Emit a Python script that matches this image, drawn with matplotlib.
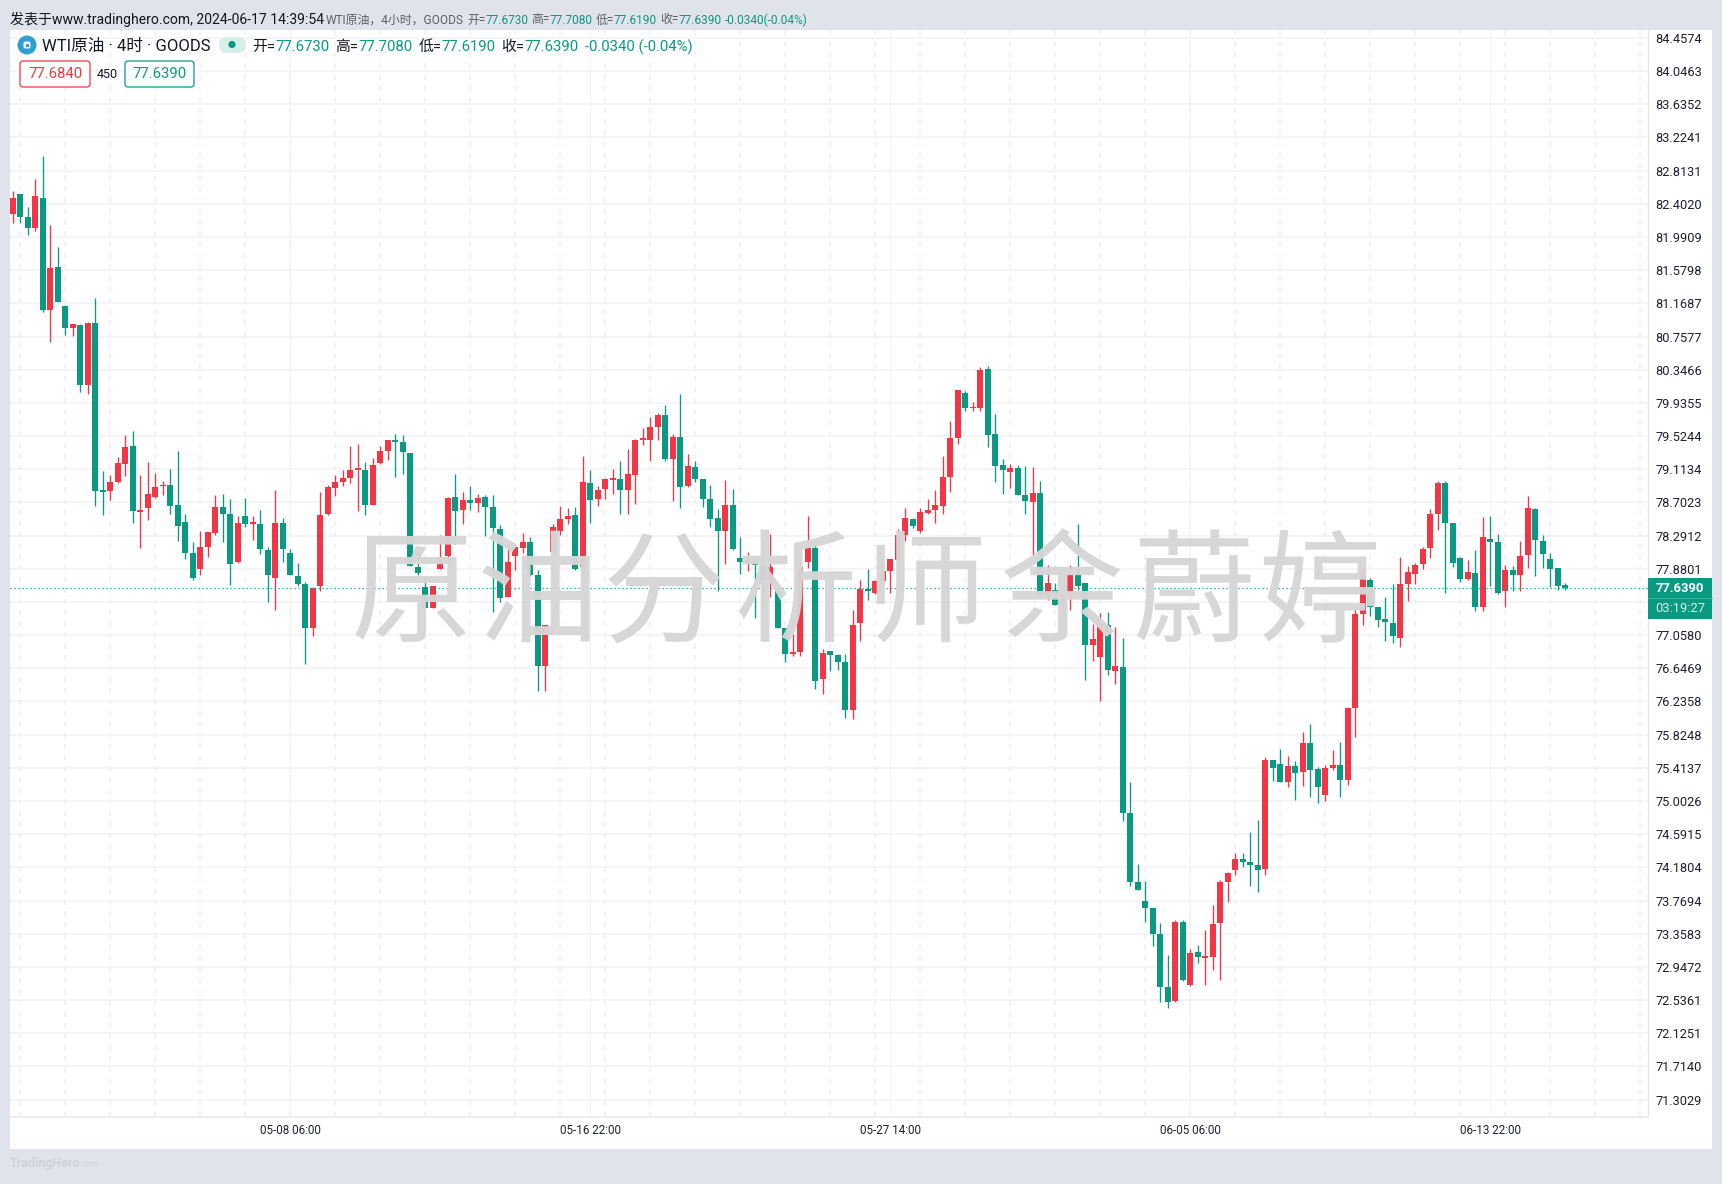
# -*- coding: utf-8 -*-
import numpy as np
import matplotlib
matplotlib.use('Agg')
import matplotlib.pyplot as plt
from matplotlib.patches import Rectangle, Circle, FancyBboxPatch

plt.rcParams['font.family'] = ['Roboto', 'Noto Sans CJK SC', 'DejaVu Sans']

# Velas de 4 horas
opens = [82.27,82.52,82.24,82.10,82.48,81.09,81.62,81.14,80.86,80.90,
         80.16,80.93,78.85,78.84,78.96,79.18,79.40,78.58,78.63,78.77,
         78.90,78.92,78.67,78.46,78.08,77.88,78.15,78.32,78.64,78.56,
         77.96,78.53,78.44,78.44,78.11,77.77,78.45,78.08,77.79,77.69,
         77.15,77.67,78.56,78.88,78.96,79.00,79.11,79.11,78.67,79.19,
         79.34,79.48,79.45,79.31,77.90,77.66,77.40,77.88,78.04,78.77,
         78.61,78.73,78.69,78.77,78.65,78.37,77.53,78.04,78.14,78.21,
         77.80,76.67,78.09,78.35,78.50,78.55,77.90,78.94,78.74,78.87,
         78.98,78.99,78.86,79.04,79.48,79.48,79.64,79.79,79.24,79.51,
         78.90,79.14,78.99,78.74,78.51,78.35,78.67,78.01,77.97,77.98,
         77.93,77.74,77.63,77.15,76.82,76.85,77.96,78.14,76.51,76.86,
         76.81,76.72,76.13,77.21,77.63,77.58,77.73,77.85,77.99,78.30,
         78.50,78.35,78.57,78.61,78.66,79.02,79.50,80.06,79.87,79.87,
         80.36,79.55,79.17,79.08,79.13,78.79,78.71,78.82,77.54,77.62,
         77.43,77.57,77.80,77.70,76.93,76.79,77.18,76.61,76.66,74.85,
         74.00,73.76,73.68,73.35,72.70,72.52,73.50,72.72,73.13,73.06,
         73.07,73.49,74.00,74.15,74.28,74.25,74.21,74.16,75.51,75.46,
         75.24,75.44,75.36,75.72,75.40,75.08,75.41,75.45,75.26,76.15,
         77.32,77.74,77.41,77.26,77.21,77.02,77.69,77.82,77.94,78.14,
         78.56,78.94,78.45,78.01,77.75,77.83,77.41,78.25,78.21,77.60,
         77.86,77.80,78.05,78.62,78.22,78.00,77.89,77.673]
highs = [82.56,82.52,82.36,82.71,83.00,82.14,81.87,81.15,80.91,80.91,
         80.94,81.23,79.09,79.04,79.27,79.54,79.59,79.04,79.20,79.07,
         78.97,79.12,79.34,78.56,78.21,78.35,78.34,78.79,78.81,78.75,
         78.54,78.76,78.54,78.61,78.15,78.86,78.51,78.13,77.95,77.72,
         77.66,78.83,78.92,79.04,79.11,79.40,79.43,79.20,79.25,79.40,
         79.48,79.55,79.54,79.32,78.12,77.75,77.67,78.30,78.77,79.05,
         78.83,78.90,78.81,78.79,78.80,78.42,78.16,78.17,78.32,78.27,
         77.86,77.18,78.43,78.66,78.63,78.65,79.28,79.10,78.90,79.00,
         79.12,79.22,79.36,79.49,79.62,79.76,79.81,79.91,79.55,80.05,
         79.30,79.22,78.99,78.92,78.62,78.98,78.87,78.27,78.09,78.03,
         78.24,78.31,77.64,77.15,77.07,77.97,78.53,78.17,76.89,76.86,
         76.83,76.83,77.37,77.74,77.88,77.74,77.95,78.00,78.37,78.63,
         78.51,78.63,78.75,78.86,79.28,79.71,80.10,80.08,79.95,80.38,
         80.39,79.80,79.24,79.18,79.17,79.15,79.14,78.97,77.93,77.70,
         77.57,77.93,78.43,77.70,77.19,77.33,77.34,77.16,77.02,75.24,
         74.22,74.01,73.68,73.49,73.09,73.53,73.53,73.17,73.22,73.40,
         73.71,74.02,74.12,74.36,74.36,74.62,74.77,75.55,75.51,75.65,
         75.56,75.50,75.86,75.96,75.42,75.45,75.63,75.73,76.17,77.38,
         77.91,77.77,77.41,77.53,77.69,78.03,77.91,77.95,78.15,78.62,
         78.97,78.97,78.45,78.03,77.99,78.11,78.52,78.53,78.31,77.93,
         77.91,78.22,78.78,78.63,78.30,78.08,77.89,77.708]
lows = [82.17,82.16,82.01,82.06,81.06,80.69,81.18,80.78,80.76,80.07,
        80.04,78.66,78.55,78.73,78.94,79.03,78.45,78.14,78.49,78.76,
        78.79,78.56,78.23,78.00,77.74,77.80,78.03,78.30,78.21,77.68,
        77.95,78.40,78.24,78.06,77.47,77.37,77.96,77.80,77.67,76.70,
        77.05,77.61,78.55,78.78,78.90,78.94,78.60,78.55,78.67,79.18,
        79.23,79.02,79.06,77.92,77.80,77.40,77.40,77.88,77.96,78.19,
        78.43,78.61,78.58,78.29,77.34,77.47,77.53,77.86,78.08,77.79,
        76.37,76.36,78.07,78.30,78.43,77.86,77.78,78.45,78.66,78.74,
        78.81,78.56,78.56,78.68,79.41,79.22,79.47,79.22,78.72,78.63,
        78.89,78.95,78.64,78.40,77.60,77.94,78.11,77.81,77.85,77.27,
        77.38,77.53,77.15,76.73,76.80,76.80,77.89,76.39,76.33,76.61,
        76.63,76.03,76.02,76.99,77.49,77.57,77.68,77.58,77.96,78.22,
        78.38,78.32,78.56,78.45,78.56,78.83,79.43,79.84,79.84,79.84,
        79.39,78.95,78.81,78.88,78.79,78.56,78.01,77.53,77.49,77.43,
        77.29,77.37,77.62,76.50,76.74,76.24,76.56,76.45,74.75,73.95,
        73.90,73.50,73.20,72.51,72.44,72.51,72.77,72.71,72.99,72.72,
        72.91,72.78,73.75,74.08,74.18,73.95,73.87,74.08,75.25,75.24,
        75.18,75.01,75.19,75.05,74.98,75.00,75.39,75.05,75.20,75.80,
        77.18,77.29,77.16,76.98,76.96,76.91,77.48,77.69,77.88,78.01,
        78.36,77.58,77.90,77.72,77.74,77.36,77.36,77.67,77.57,77.41,
        77.60,77.60,77.89,77.79,77.89,77.65,77.62,77.619]
closes = [82.47,82.24,82.10,82.50,81.09,81.61,81.19,80.86,80.91,80.16,
          80.93,78.84,78.83,78.96,79.19,79.39,78.59,78.61,78.81,78.89,
          78.91,78.66,78.41,78.08,77.77,78.15,78.33,78.64,78.56,77.94,
          78.45,78.43,78.45,78.12,77.80,78.45,78.12,77.80,77.69,77.15,
          77.64,78.55,78.89,78.96,79.00,79.11,79.12,78.67,79.17,79.34,
          79.48,79.45,79.33,77.92,77.83,77.40,77.67,78.02,78.76,78.60,
          78.73,78.70,78.76,78.65,78.39,77.52,77.97,78.15,78.21,77.80,
          76.67,77.18,78.40,78.50,78.53,77.88,78.95,78.73,78.86,78.99,
          78.99,78.86,79.05,79.48,79.49,79.64,79.79,79.24,79.51,78.89,
          79.15,78.99,78.74,78.50,78.35,78.67,78.12,77.96,77.98,77.93,
          77.74,77.90,77.15,76.82,76.85,77.90,78.14,76.49,76.84,76.81,
          76.73,76.13,77.18,77.63,77.61,77.73,77.85,78.00,78.30,78.51,
          78.41,78.58,78.61,78.67,79.02,79.50,80.10,79.87,79.88,80.34,
          79.54,79.15,79.10,79.13,78.79,78.72,78.82,77.54,77.70,77.43,
          77.57,77.80,77.67,76.93,77.01,77.18,76.62,76.67,74.86,74.00,
          73.90,73.68,73.35,72.70,72.51,73.50,72.78,73.12,73.07,73.07,
          73.48,74.00,74.11,74.28,74.25,74.21,74.15,75.51,75.41,75.24,
          75.44,75.35,75.72,75.39,75.18,75.41,75.45,75.26,76.15,77.32,
          77.88,77.41,77.25,77.22,77.05,77.69,77.84,77.93,78.13,78.56,
          78.94,78.45,77.95,77.75,77.84,77.41,78.27,78.21,77.58,77.86,
          77.80,78.04,78.63,78.24,78.06,77.88,77.67,77.639]

# Escalas
y_ticks = [84.4574,84.0463,83.6352,83.2241,82.8131,82.4020,81.9909,81.5798,81.1687,80.7577,
           80.3466,79.9355,79.5244,79.1134,78.7023,78.2912,77.8801,77.4691,77.0580,76.6469,
           76.2358,75.8248,75.4137,75.0026,74.5915,74.1804,73.7694,73.3583,72.9472,72.5361,
           72.1251,71.7140,71.3029]
x_tick_idx = [37, 77, 117, 157, 197]
x_tick_labels = ['05-08 06:00', '05-16 22:00', '05-27 14:00', '06-05 06:00', '06-13 22:00']
last_price = 77.639
countdown = '03:19:27'
bid_price = '77.6840'
ask_price = '77.6390'
spread = '450'
watermark = '原油分析师余蔚婷'

BG = '#e0e3eb'
UP = '#f23645'
DOWN = '#0a9981'
W, H = 1722, 1184

fig = plt.figure(figsize=(W / 100, H / 100), dpi=100, facecolor=BG)


def px_axes(zorder):
    # Ejes a pantalla completa en pixeles, para el marco y los textos
    a = fig.add_axes([0, 0, 1, 1], zorder=zorder)
    a.set_xlim(0, W)
    a.set_ylim(H, 0)
    a.axis('off')
    return a


back = px_axes(0)
back.add_patch(Rectangle((10, 30), 1702, 1119, facecolor='white', edgecolor='none'))

ax = fig.add_axes([10 / W, (H - 1117) / H, 1638 / W, 1087 / H], zorder=1)
ax.patch.set_alpha(0)
ax.set_xlim(-0.36, 218.04)
ax.set_ylim(71.087, 84.556)

# Rejilla
for v in y_ticks:
    ax.axhline(v, color='#f2f3f6', lw=1.1, zorder=1)
for i in range(1, 219, 6):
    ax.axvline(i, color='#eeeff3', lw=1.1, ls=(0, (3.3, 4)), zorder=1)
for i in x_tick_idx:
    ax.axvline(i, color='#f2f3f6', lw=0.8, zorder=1)

# Velas
idx = np.arange(len(opens))
o = np.array(opens)
h = np.array(highs)
l = np.array(lows)
c = np.array(closes)
colors = [UP if c[i] >= o[i] else DOWN for i in idx]
ax.vlines(idx, l, h, colors=colors, lw=0.95, zorder=3)
ax.bar(idx, np.maximum(np.abs(c - o), 0.02), bottom=np.minimum(o, c), width=0.8,
       color=colors, lw=0, zorder=4)

ax.axhline(last_price, color=DOWN, lw=0.9, ls=(0, (1, 2.2)), zorder=5)

ax.yaxis.tick_right()
# la etiqueta de 77.4691 queda oculta por la del ultimo precio
ax.set_yticks(y_ticks, ['' if v == 77.4691 else '%.4f' % v for v in y_ticks])
ax.set_xticks(x_tick_idx, x_tick_labels)
ax.tick_params(axis='y', length=0, pad=5.2, labelsize=9.2, labelcolor='#1c2030')
ax.tick_params(axis='x', length=0, pad=5, labelsize=8.4, labelcolor='#1c2030')
for s in ['top', 'left']:
    ax.spines[s].set_visible(False)
ax.spines['bottom'].set_color('#eceef1')
ax.spines['bottom'].set_linewidth(1.4)
ax.spines['right'].set_color('#e0e3eb')
ax.spines['right'].set_linewidth(0.8)

# Marca de agua, encima de las velas
top = px_axes(5)
for ch, cx in zip(watermark, [412, 538, 664, 795, 925, 1062, 1193, 1320]):
    top.text(cx, 598, ch, fontsize=88, color='#d6d6d6', ha='center', va='center', alpha=0.97,
             family=['Noto Sans CJK SC'])

# Etiqueta de ultimo precio
top.add_patch(Rectangle((1648, 578), 64, 41, facecolor=DOWN, edgecolor='none'))
top.plot([1648, 1712], [598, 598], color='#3fb19c', lw=0.7)
top.text(1680, 588.5, '%.4f' % last_price, color='white', fontsize=9.4, fontweight='bold', ha='center', va='center')
top.text(1680, 609, countdown, color='#d6f0ea', fontsize=9.4, ha='center', va='center')


def segments(x, y, parts, size):
    # Texto de varios colores, un trozo detras de otro
    rend = fig.canvas.get_renderer()
    for part in parts:
        txt, col, gap = part[:3]
        t = top.text(x, y, txt, color=col, fontsize=part[3] if len(part) > 3 else size,
                     fontweight=part[4] if len(part) > 4 else 'normal', ha='left', va='center')
        x += t.get_window_extent(rend).width + gap


segments(10, 19, [('发表于www.tradinghero.com, 2024-06-17 14:39:54', '#131722', 3)], 10.1)
segments(326, 20, [('WTI原油，4小时，GOODS', '#5d606b', 3), ('开=', '#5d606b', 0), ('77.6730', DOWN, 3),
                   ('高=', '#5d606b', 0), ('77.7080', DOWN, 3), ('低=', '#5d606b', 0), ('77.6190', DOWN, 3),
                   ('收=', '#5d606b', 0), ('77.6390', DOWN, 3), ('-0.0340(-0.04%)', DOWN, 0)], 8.6)

top.add_patch(Circle((27, 45), 9.5, facecolor='#2f9fce', edgecolor='none'))
top.add_patch(FancyBboxPatch((23.5, 41.5), 7, 7, boxstyle='round,pad=0,rounding_size=2', facecolor='white', edgecolor='#2f9fce', lw=0))
top.add_patch(Rectangle((25.7, 43.5), 2.8, 3, facecolor='#2f9fce', edgecolor='none'))
segments(42, 46, [('WTI原油 · 4时 · GOODS', '#131722', 0)], 12)
top.add_patch(FancyBboxPatch((219, 37), 27, 16, boxstyle='round,pad=0,rounding_size=8', facecolor='#d5efe9', edgecolor='none'))
top.add_patch(Circle((232, 44.5), 3.6, facecolor=DOWN, edgecolor='none'))
segments(252, 47, [('开=', '#131722', 0), ('77.6730', DOWN, 6), ('高=', '#131722', 0), ('77.7080', DOWN, 6),
                   ('低=', '#131722', 0), ('77.6190', DOWN, 6), ('收=', '#131722', 0), ('77.6390', DOWN, 7),
                   ('-0.0340 (-0.04%)', DOWN, 0)], 10.7)

top.add_patch(FancyBboxPatch((20, 61), 70, 26, boxstyle='round,pad=0,rounding_size=3', facecolor='white', edgecolor=UP, lw=0.9))
top.text(55, 74.5, bid_price, color=UP, fontsize=10.7, ha='center', va='center')
top.text(107, 74.5, spread, color='#131722', fontsize=9, ha='center', va='center')
top.add_patch(FancyBboxPatch((125, 61), 69, 26, boxstyle='round,pad=0,rounding_size=3', facecolor='white', edgecolor=DOWN, lw=0.9))
top.text(159.5, 74.5, ask_price, color=DOWN, fontsize=10.7, ha='center', va='center')

segments(10, 1164, [('TradingHero', '#cdd1dc', 0, 9, 'bold'), ('.com', '#cdd1dc', 0, 5.5)], 9)

fig.savefig('out.png', dpi=100, facecolor=BG)
